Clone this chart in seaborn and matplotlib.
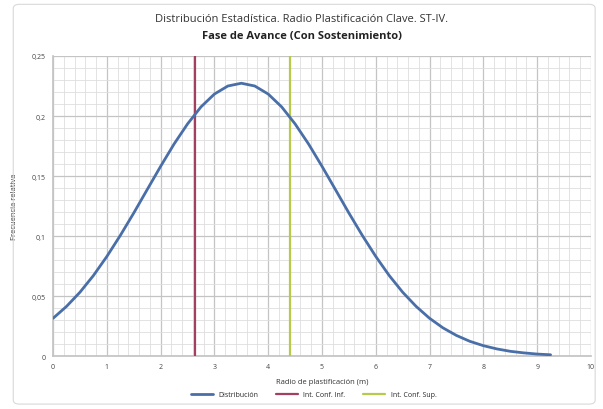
import matplotlib
matplotlib.use("Agg")
import matplotlib.pyplot as plt
import matplotlib.ticker as mticker
from matplotlib.patches import FancyBboxPatch
import seaborn as sns
import pandas as pd

# ---- data ----
radio = [0.00, 0.25, 0.50, 0.75, 1.00, 1.25, 1.50, 1.75, 2.00, 2.25, 2.50, 2.75,
         3.00, 3.25, 3.50, 3.75, 4.00, 4.25, 4.50, 4.75, 5.00, 5.25, 5.50, 5.75,
         6.00, 6.25, 6.50, 6.75, 7.00, 7.25, 7.50, 7.75, 8.00, 8.25, 8.50, 8.75,
         9.00, 9.25]
frecuencia = [0.0315, 0.0414, 0.0532, 0.0671, 0.0830, 0.1005, 0.1192, 0.1387,
              0.1581, 0.1767, 0.1934, 0.2076, 0.2183, 0.2250, 0.2273, 0.2250,
              0.2183, 0.2076, 0.1934, 0.1767, 0.1581, 0.1387, 0.1192, 0.1005,
              0.0830, 0.0671, 0.0532, 0.0414, 0.0315, 0.0235, 0.0172, 0.0123,
              0.0087, 0.0060, 0.0040, 0.0027, 0.0017, 0.0011]
int_conf_inf = 2.645
int_conf_sup = 4.40
y_limits = [0.0, 0.25]
x_limits = [0.0, 10.0]

series_names = ["Distribución", "Int. Conf. Inf.", "Int. Conf. Sup."]
title_1 = "Distribución Estadística. Radio Plastificación Clave. ST-IV."
title_2 = "Fase de Avance (Con Sostenimiento)"
x_label = "Radio de plastificación (m)"
y_label = "Frecuencia relativa"

sns.set_theme(style="white")
plt.rcParams['font.family'] = ['Open Sans', 'DejaVu Sans']

fig = plt.figure(figsize=(6.03, 4.10), dpi=100)
ax = fig.add_axes([0.088, 0.129, 0.892, 0.732])

# outer chart border
fig.patches.append(FancyBboxPatch((0.022, 0.012), 0.965, 0.975,
                                  boxstyle="round,pad=0,rounding_size=0.01",
                                  transform=fig.transFigure, fill=False,
                                  edgecolor="#d9d9d9", linewidth=0.8))

df = pd.DataFrame({"x": radio, "y": frecuencia})
blue = "#4a6fa8"
red = "#a3405f"
green = "#b9c94c"

sns.lineplot(data=df, x="x", y="y", ax=ax, color=blue, linewidth=2.0,
             label=series_names[0], zorder=5, estimator=None)
ci_df_inf = pd.DataFrame({"x": [int_conf_inf, int_conf_inf], "y": y_limits})
ci_df_sup = pd.DataFrame({"x": [int_conf_sup, int_conf_sup], "y": y_limits})
sns.lineplot(data=ci_df_inf, x="x", y="y", ax=ax, color=red, linewidth=1.6,
             label=series_names[1], zorder=4, estimator=None, sort=False)
sns.lineplot(data=ci_df_sup, x="x", y="y", ax=ax, color=green, linewidth=1.6,
             label=series_names[2], zorder=4, estimator=None, sort=False)

ax.set_xlim(*x_limits)
ax.set_ylim(*y_limits)
ax.xaxis.set_major_locator(mticker.MultipleLocator(1))
ax.xaxis.set_minor_locator(mticker.MultipleLocator(0.2))
ax.yaxis.set_major_locator(mticker.MultipleLocator(0.05))
ax.yaxis.set_minor_locator(mticker.MultipleLocator(0.01))

def fmt(v, pos):
    s = ("%.2f" % v).rstrip("0").rstrip(".")
    return s.replace(".", ",")
ax.yaxis.set_major_formatter(mticker.FuncFormatter(fmt))
ax.xaxis.set_major_formatter(mticker.FuncFormatter(fmt))

ax.grid(which="major", color="#c4c4c4", linewidth=0.9)
ax.grid(which="minor", color="#dedede", linewidth=0.6)
ax.set_axisbelow(True)
for sp in ax.spines.values():
    sp.set_visible(False)
ax.spines["bottom"].set_visible(True)
ax.spines["bottom"].set_color("#c4c4c4")
ax.spines["left"].set_visible(True)
ax.spines["left"].set_color("#c4c4c4")

ax.tick_params(axis="both", which="both", length=0, labelsize=5, colors="#444444", pad=5)

ax.set_xlabel(x_label, fontsize=5.5, color="#333333", labelpad=6)
ax.set_ylabel(y_label, fontsize=5.5, color="#333333", labelpad=10)

fig.text(0.5, 0.953, title_1, ha="center", va="center", fontsize=8, color="#333333")
fig.text(0.5, 0.912, title_2, ha="center", va="center", fontsize=8,
         fontweight="bold", color="#222222")

handles, labels = ax.get_legend_handles_labels()
ax.get_legend().remove()
fig.legend(handles, labels, loc="center", bbox_to_anchor=(0.52, 0.035), ncol=3,
           frameon=False, fontsize=5, handlelength=3.2, columnspacing=2.5)

fig.savefig("out.png", dpi=100)
